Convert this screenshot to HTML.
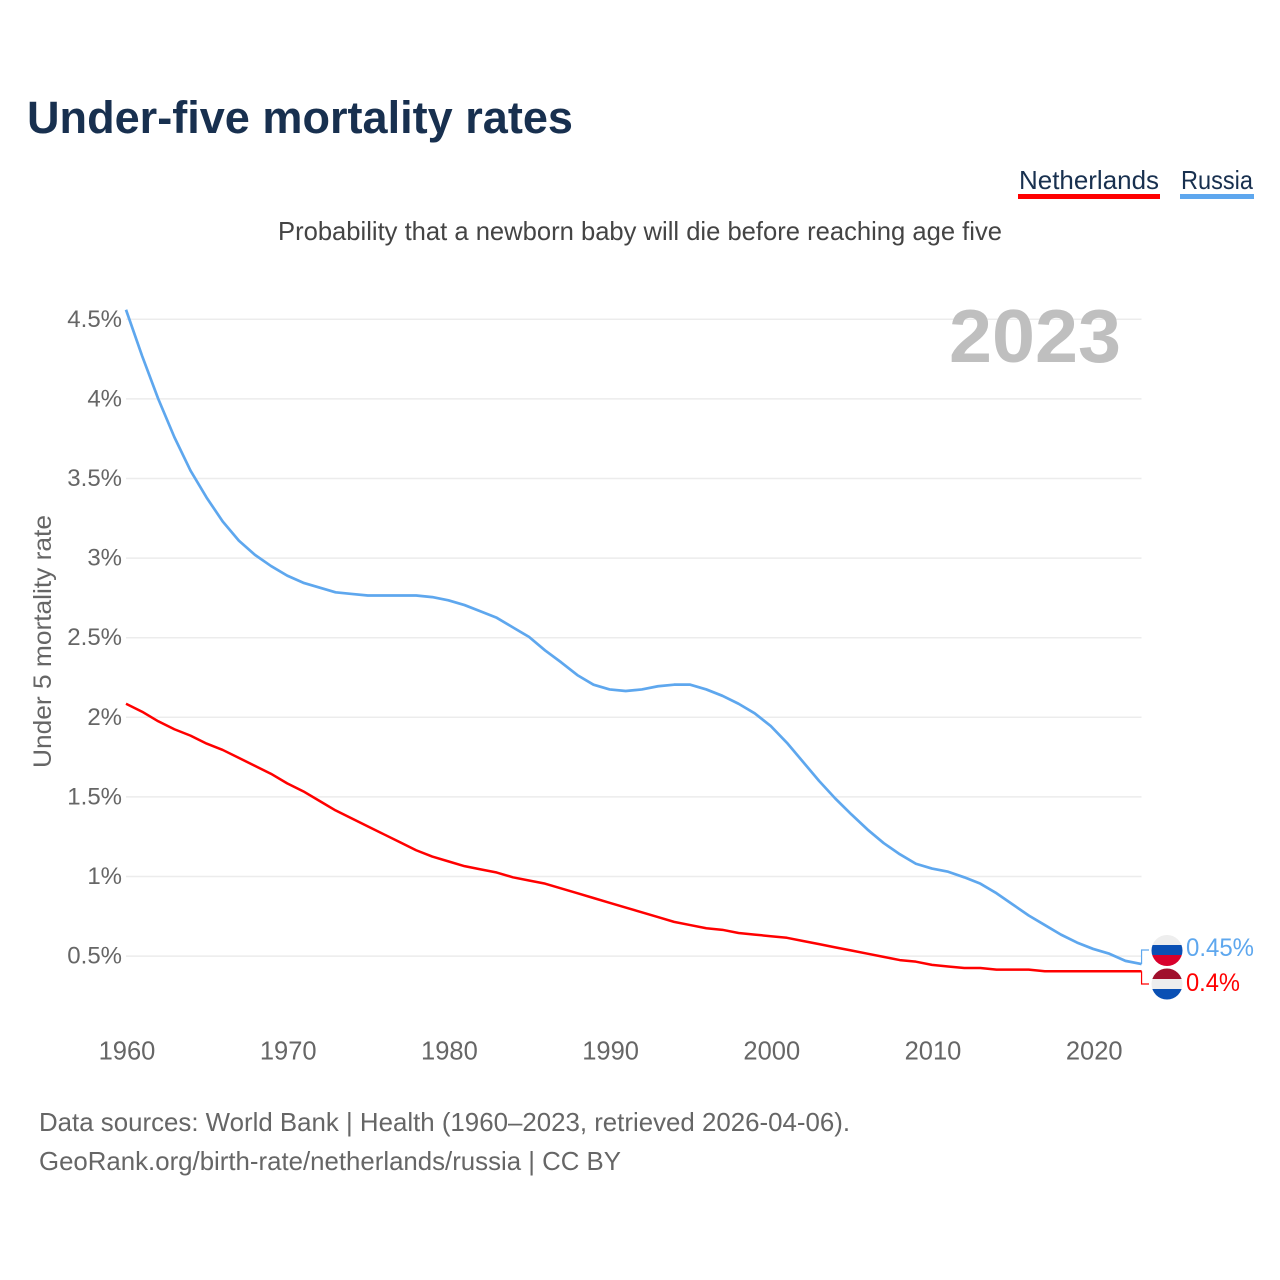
<!DOCTYPE html>
<html lang="en">
<head>
<meta charset="utf-8">
<title>Under-five mortality rates</title>
<style>
  html, body { margin: 0; padding: 0; background: #fff; width: 1280px; height: 1280px; overflow: hidden; }
  svg { display: block; font-family: "Liberation Sans", sans-serif; }
</style>
</head>
<body>
<svg id="chart" xmlns="http://www.w3.org/2000/svg" width="1280" height="1280" viewBox="0 0 1280 1280">
  <rect x="0" y="0" width="1280" height="1280" fill="#ffffff"/>
  <text x="27" y="133" font-size="45" font-weight="700" fill="#18304f" textLength="546" lengthAdjust="spacingAndGlyphs">Under-five mortality rates</text>

  <g>
    <g>
      <text x="1019" y="189" font-size="26" fill="#18304f" textLength="140" lengthAdjust="spacingAndGlyphs">Netherlands</text>
      <rect x="1018" y="194" width="142" height="5" fill="#ff0000"/>
    </g>
    <g>
      <text x="1181" y="189" font-size="26" fill="#18304f" textLength="72" lengthAdjust="spacingAndGlyphs">Russia</text>
      <rect x="1180" y="194" width="74" height="5" fill="#5ea7ee"/>
    </g>
  </g>

  <text x="278" y="240" font-size="26" fill="#444444" textLength="724" lengthAdjust="spacingAndGlyphs">Probability that a newborn baby will die before reaching age five</text>

  <g id="grid"></g>
  <g id="y-ticks"></g>
  <g id="x-ticks"></g>

  <text transform="translate(51,768) rotate(-90)" x="0" y="0" font-size="25" fill="#666666" textLength="253" lengthAdjust="spacingAndGlyphs">Under 5 mortality rate</text>
  <text x="949" y="362" font-size="75" font-weight="700" fill="#bfbfbf" textLength="172" lengthAdjust="spacingAndGlyphs">2023</text>

  <g id="series"></g>

  <defs>
    <clipPath id="clip-ru"><circle cx="1167" cy="950.5" r="15.5"/></clipPath>
    <clipPath id="clip-nl"><circle cx="1167" cy="984" r="15.5"/></clipPath>
  </defs>
  <g clip-path="url(#clip-ru)">
    <rect x="1150" y="934" width="34" height="11" fill="#eeeeee"/>
    <rect x="1150" y="945" width="34" height="10" fill="#0a50b4"/>
    <rect x="1150" y="955" width="34" height="12" fill="#d8002c"/>
  </g>
  <g clip-path="url(#clip-nl)">
    <rect x="1150" y="968" width="34" height="11" fill="#a0102c"/>
    <rect x="1150" y="979" width="34" height="10" fill="#eeeeee"/>
    <rect x="1150" y="989" width="34" height="12" fill="#0a50b4"/>
  </g>
  <text id="label-ru" x="1186" y="956" font-size="25" fill="#5ea7ee" textLength="68" lengthAdjust="spacingAndGlyphs"></text>
  <text id="label-nl" x="1186" y="991" font-size="25" fill="#ff0000" textLength="54" lengthAdjust="spacingAndGlyphs"></text>

  <text x="39" y="1131" font-size="26" fill="#666666" textLength="811" lengthAdjust="spacingAndGlyphs">Data sources: World Bank | Health (1960–2023, retrieved 2026-04-06).</text>
  <text x="39" y="1170" font-size="26" fill="#666666" textLength="582" lengthAdjust="spacingAndGlyphs">GeoRank.org/birth-rate/netherlands/russia | CC BY</text>
</svg>
<script>
const firstYear = 1960;
const xTickYears = [1960, 1970, 1980, 1990, 2000, 2010, 2020];
const yTickValues = [0.5, 1, 1.5, 2, 2.5, 3, 3.5, 4, 4.5];
const russiaValues = [
  4.56, 4.27, 4.00, 3.76, 3.55, 3.38, 3.23, 3.11, 3.02, 2.95,
  2.89, 2.845, 2.815, 2.785, 2.775, 2.765, 2.765, 2.765, 2.765, 2.755,
  2.735, 2.705, 2.665, 2.625, 2.565, 2.505, 2.42, 2.345, 2.265, 2.205,
  2.175, 2.165, 2.175, 2.195, 2.205, 2.205, 2.175, 2.135, 2.085, 2.025,
  1.945, 1.84, 1.72, 1.60, 1.49, 1.39, 1.295, 1.21, 1.14, 1.08,
  1.05, 1.03, 0.995, 0.955, 0.895, 0.825, 0.755, 0.695, 0.635, 0.585,
  0.545, 0.515, 0.47, 0.45
];
const netherlandsValues = [
  2.085, 2.035, 1.975, 1.925, 1.885, 1.835, 1.795, 1.745, 1.695, 1.645,
  1.585, 1.535, 1.475, 1.415, 1.365, 1.315, 1.265, 1.215, 1.165, 1.125,
  1.095, 1.065, 1.045, 1.025, 0.995, 0.975, 0.955, 0.925, 0.895, 0.865,
  0.835, 0.805, 0.775, 0.745, 0.715, 0.695, 0.675, 0.665, 0.645, 0.635,
  0.625, 0.615, 0.595, 0.575, 0.555, 0.535, 0.515, 0.495, 0.475, 0.465,
  0.445, 0.435, 0.425, 0.425, 0.415, 0.415, 0.415, 0.405, 0.405, 0.405,
  0.405, 0.405, 0.405, 0.405
];
const russiaEndLabel = "0.45%";
const netherlandsEndLabel = "0.4%";

const NS = "http://www.w3.org/2000/svg";
function xScale(year) { return 126 + (year - firstYear) * 16.12; }
function yScale(v) { return 956.1 - (v - 0.5) * 159.2; }
function make(tag, attrs, parent) {
  const el = document.createElementNS(NS, tag);
  for (const k in attrs) el.setAttribute(k, attrs[k]);
  parent.appendChild(el);
  return el;
}

const grid = document.getElementById("grid");
const yTicks = document.getElementById("y-ticks");
yTickValues.forEach(function (v) {
  const line = make("line", { x1: 126, x2: 1141.5, y1: yScale(v), y2: yScale(v), stroke: "#ececec", "stroke-width": 1.5 }, grid);
  
  
  const label = make("text", { x: 122, y: yScale(v) + 7.5, "text-anchor": "end", "font-size": 24, fill: "#666666" }, yTicks);
  
  
  label.textContent = v + "%";
});

const xTicks = document.getElementById("x-ticks");
xTickYears.forEach(function (yr) {
  const label = make("text", { x: xScale(yr) + 1, y: 1059.5, "text-anchor": "middle", "font-size": 25.5, fill: "#666666" }, xTicks);
  
  
  label.textContent = yr;
});

function pathFor(values) {
  return values.map(function (v, i) {
    return (i ? "L" : "M") + xScale(firstYear + i).toFixed(2) + " " + yScale(v).toFixed(2);
  }).join(" ");
}
const series = document.getElementById("series");

const ruLine = make("path", { d: pathFor(russiaValues), fill: "none", stroke: "#5ea7ee", "stroke-width": 2.7, "stroke-linejoin": "round" }, series);



const nlLine = make("path", { d: pathFor(netherlandsValues), fill: "none", stroke: "#ff0000", "stroke-width": 2.5, "stroke-linejoin": "round" }, series);



const lastX = xScale(firstYear + russiaValues.length - 1);
const ruEndY = yScale(russiaValues[russiaValues.length - 1]);
const nlEndY = yScale(netherlandsValues[netherlandsValues.length - 1]);

const ruConn = make("path", { d: "M" + lastX + " " + ruEndY + " V950 H1149", fill: "none", stroke: "#5ea7ee", "stroke-width": 1.2 }, series);



const nlConn = make("path", { d: "M" + lastX + " " + nlEndY + " V984 H1149", fill: "none", stroke: "#ff0000", "stroke-width": 1.2 }, series);



document.getElementById("label-ru").textContent = russiaEndLabel;
document.getElementById("label-nl").textContent = netherlandsEndLabel;
</script>
</body>
</html>
